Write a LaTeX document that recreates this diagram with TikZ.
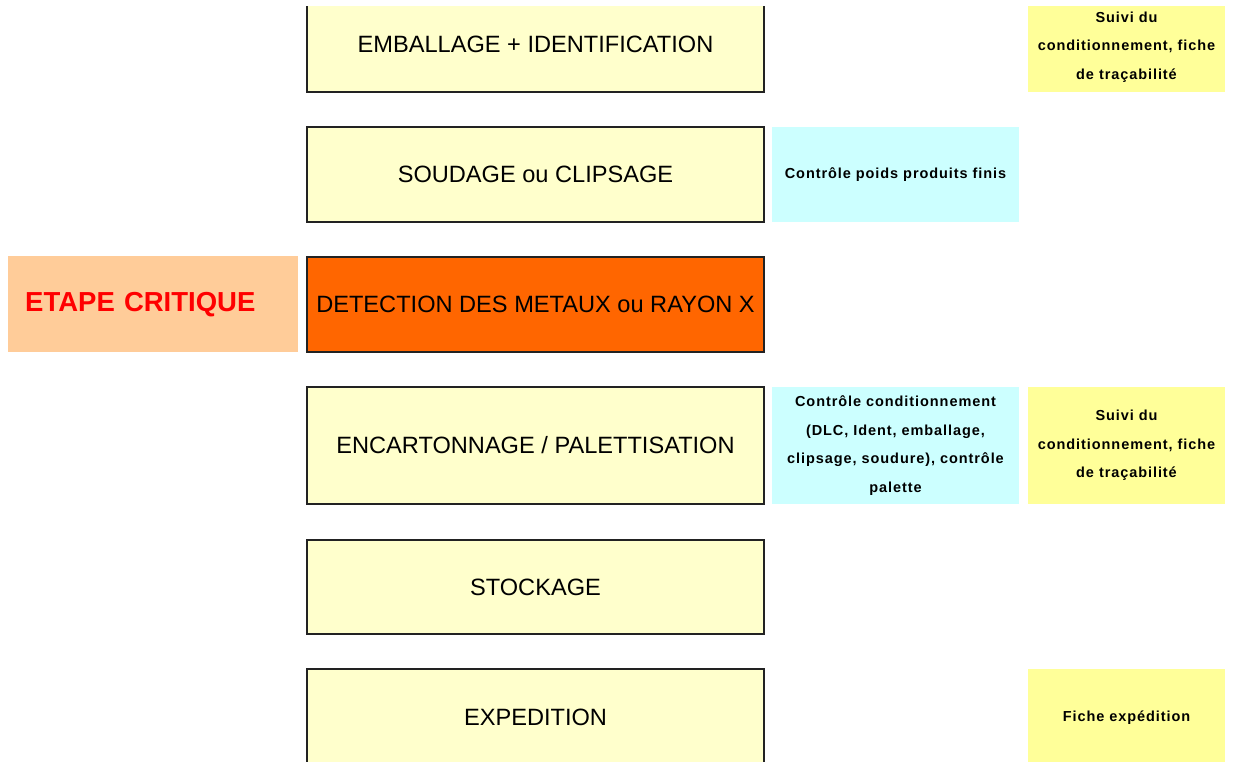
\documentclass[tikz,border=0pt]{standalone}
\usepackage{fontspec}
\setmainfont{Liberation Sans}
\definecolor{stepfill}{HTML}{FFFFCC}
\definecolor{critfill}{HTML}{FF6600}
\definecolor{critlabel}{HTML}{FFCC99}
\definecolor{ctrlfill}{HTML}{CCFFFF}
\definecolor{docfill}{HTML}{FFFF99}
\definecolor{framecol}{HTML}{222222}
\begin{document}
\begin{tikzpicture}[x=1pt,y=-1pt,
  stepbox/.style={anchor=north west,inner sep=0pt,outer sep=0pt,
    minimum width=457pt,fill=stepfill,draw=framecol,line width=2.6pt,
    font=\fontsize{23.6}{26}\selectfont,align=center},
  notefont/.style={font=\bfseries\fontsize{14.5}{28.5}\selectfont\addfontfeature{LetterSpace=6.4}},
  ctrlbox/.style={anchor=north west,inner sep=0pt,outer sep=0pt,
    minimum width=247pt,fill=ctrlfill,notefont,align=center},
  docbox/.style={anchor=north west,inner sep=0pt,outer sep=0pt,
    minimum width=197pt,fill=docfill,notefont,align=center},
]
\useasboundingbox (0,0) rectangle (1238,762);
\begin{scope}
\clip (0,7) rectangle (1238,762);
% process steps
\node[stepbox,minimum height=95pt] (emb) at (307,-3) {EMBALLAGE + IDENTIFICATION};
\node[stepbox,minimum height=95pt] (soud) at (307,127) {SOUDAGE ou CLIPSAGE};
\node[stepbox,minimum height=95pt,fill=critfill] (det) at (307,257) {DETECTION DES METAUX ou RAYON X};
\node[stepbox,minimum height=117pt] (carton) at (307,387) {ENCARTONNAGE / PALETTISATION};
\node[stepbox,minimum height=94pt] (stock) at (307,540) {STOCKAGE};
\node[stepbox,minimum height=97pt] (exped) at (307,669) {EXPEDITION};
% critical step label
\node[anchor=north west,inner xsep=17pt,inner ysep=0pt,text width=256pt,align=left,
  minimum height=96pt,fill=critlabel,text=red,
  font=\bfseries\fontsize{27.5}{30}\selectfont] (crit) at (8,256) {ETAPE CRITIQUE};
% controls
\node[ctrlbox,minimum height=95pt] (ctrl1) at (772,127) {Contrôle poids produits finis};
\node[ctrlbox,minimum height=117pt] (ctrl2) at (772,387)
  {Contrôle conditionnement\\(DLC, Ident, emballage,\\clipsage, soudure), contrôle\\palette};
% records
\node[docbox,minimum height=90pt] (doc1) at (1028,2) {Suivi du\\conditionnement, fiche\\de traçabilité};
\node[docbox,minimum height=117pt] (doc2) at (1028,387) {Suivi du\\conditionnement, fiche\\de traçabilité};
\node[docbox,minimum height=97pt] (doc3) at (1028,669) {Fiche expédition};
\end{scope}
\end{tikzpicture}
\end{document}
